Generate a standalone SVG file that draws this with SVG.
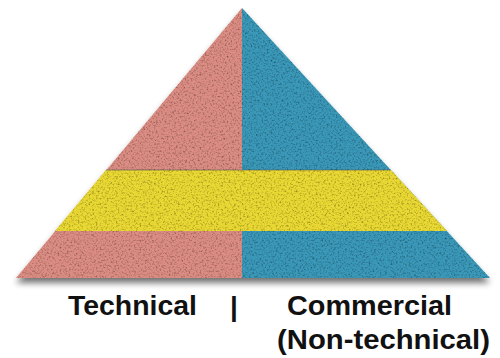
<svg xmlns="http://www.w3.org/2000/svg" width="500" height="358" viewBox="0 0 500 358">
<defs>
<filter id="shadow" x="-5%" y="-5%" width="110%" height="120%">
<feGaussianBlur in="SourceAlpha" stdDeviation="3"/>
<feOffset dy="5" result="b"/>
<feComponentTransfer in="b" result="bs"><feFuncA type="linear" slope="0.55"/></feComponentTransfer>
<feMerge><feMergeNode in="bs"/><feMergeNode in="SourceGraphic"/></feMerge>
</filter>
<filter id="noise" x="0" y="0" width="100%" height="100%">
<feTurbulence type="fractalNoise" baseFrequency="0.55" numOctaves="2" seed="7" result="t"/>
<feColorMatrix in="t" type="matrix" values="0 0 0 0 0  0 0 0 0 0  0 0 0 0 0  1.6 0 0 0 -0.75" result="dark"/>
<feComposite in="dark" in2="SourceGraphic" operator="in" result="d"/>
<feMerge><feMergeNode in="SourceGraphic"/><feMergeNode in="d"/></feMerge>
</filter>
</defs>
<style>
.lbl{font-family:"Liberation Sans",Arial,sans-serif;font-weight:bold;font-size:28px;fill:#111}
</style>
<g id="pyramid" filter="url(#shadow)">
<g filter="url(#noise)">
<polygon id="technical" points="242,8 16,278 242,278" fill="#DC8D83"/>
<polygon id="commercial" points="242,8 242,278 490,278" fill="#3A98B8"/>
<polygon id="band" points="106,170 391,170 447,231 55,231" fill="#EAD934"/>
<line x1="106" y1="170" x2="391" y2="170" stroke="#555" stroke-width="1" opacity="0.6"/>
</g>
</g>
<g id="labels">
<text class="lbl" x="68" y="315" textLength="129" lengthAdjust="spacingAndGlyphs">Technical</text>
<text class="lbl" x="234" y="316" text-anchor="middle">|</text>
<text class="lbl" x="287" y="315" textLength="165" lengthAdjust="spacingAndGlyphs">Commercial</text>
<text class="lbl" x="277" y="349" textLength="213" lengthAdjust="spacingAndGlyphs">(Non-technical)</text>
</g>
</svg>
